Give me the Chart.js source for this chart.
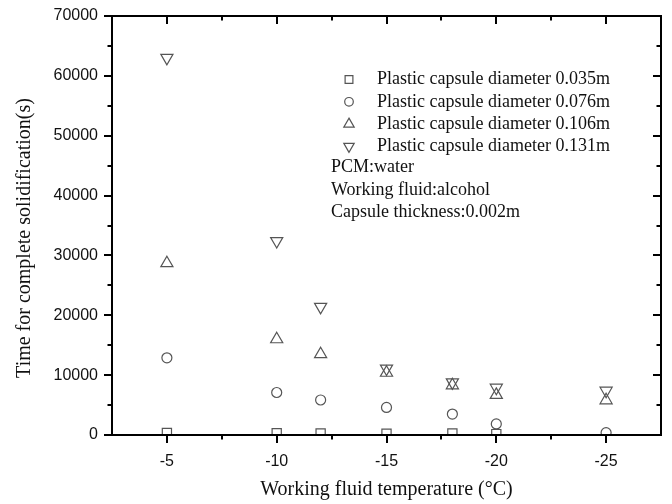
<!DOCTYPE html>
<html>
<head>
<meta charset="utf-8">
<script src="https://cdn.jsdelivr.net/npm/chart.js@4.4.1/dist/chart.umd.min.js"></script>
<style>
    html, body { margin: 0; padding: 0; background: #ffffff; }
    #wrap { width: 672px; height: 504px; position: relative; }
</style>
</head>
<body>
<div id="wrap"><canvas id="chartSolidificacion"></canvas></div>
<script>
// ===== TIEMPO DE SOLIDIFICACION COMPLETA vs TEMPERATURA DEL FLUIDO =====

// Temperaturas del fluido de trabajo (°C)
const temperaturas = [-5, -10, -12, -15, -18, -20, -25];

// Tiempo de solidificacion (s) por diametro de capsula
const tiempo035 = [350, 300, 250, 200, 250, 150];
const tiempo076 = [12900, 7100, 5850, 4600, 3500, 1850, 400];
const tiempo106 = [28700, 16000, 13500, 10400, 8300, 6700, 5800];
const tiempo131 = [63000, 32400, 21400, 11100, 8800, 7900, 7400];

const etiquetasSerie = [
    'Plastic capsule diameter 0.035m',
    'Plastic capsule diameter 0.076m',
    'Plastic capsule diameter 0.106m',
    'Plastic capsule diameter 0.131m'
];

const notas = ['PCM:water', 'Working fluid:alcohol', 'Capsule thickness:0.002m'];

const ticksX = [-5, -10, -15, -20, -25];
const ticksXMenores = [-7.5, -12.5, -17.5, -22.5];
const ticksY = [0, 10000, 20000, 30000, 40000, 50000, 60000, 70000];
const ticksYMenores = [5000, 15000, 25000, 35000, 45000, 55000, 65000];

const tituloX = 'Working fluid temperature (\u00B0C)';
const tituloY = 'Time for complete solidification(s)';

const SERIF = '"Liberation Serif", "Times New Roman", serif';
const SANS = '"Liberation Sans", Arial, sans-serif';
const COLOR_MARCA = '#555555';

function puntos(valores) {
    const lista = [];
    valores.forEach(function(v, i) {
        lista.push({ x: temperaturas[i], y: v });
    });
    return lista;
}

const estilos = [
    { pointStyle: 'rect', radius: 6.5, rotation: 0, legendRadius: 5.5 },
    { pointStyle: 'circle', radius: 5, rotation: 0, legendRadius: 4.3 },
    { pointStyle: 'triangle', radius: 7, rotation: 0, legendRadius: 6 },
    { pointStyle: 'triangle', radius: 7, rotation: 180, legendRadius: 6 }
];

const series = [tiempo035, tiempo076, tiempo106, tiempo131];

const datasets = series.map(function(valores, i) {
    return {
        label: etiquetasSerie[i],
        data: puntos(valores),
        pointStyle: estilos[i].pointStyle,
        pointRadius: estilos[i].radius,
        pointRotation: estilos[i].rotation,
        pointBorderColor: COLOR_MARCA,
        pointBackgroundColor: 'rgba(255,255,255,0)',
        pointBorderWidth: 1.2,
        showLine: false
    };
});

// Marco, marcas de escala, titulos de ejes y leyenda
const marcoYLeyenda = {
    id: 'marcoYLeyenda',
    afterDraw: function(chart) {
        const ctx = chart.ctx;
        const area = chart.chartArea;
        const sx = chart.scales.x;
        const sy = chart.scales.y;
        ctx.save();

        ctx.strokeStyle = '#000000';
        ctx.lineWidth = 2;
        ctx.strokeRect(area.left, area.top, area.right - area.left, area.bottom - area.top);

        function marcaX(v, largo) {
            const px = Math.round(sx.getPixelForValue(v));
            ctx.beginPath();
            ctx.moveTo(px, area.bottom);
            ctx.lineTo(px, area.bottom + largo);
            ctx.moveTo(px, area.top);
            ctx.lineTo(px, area.top + largo);
            ctx.stroke();
        }
        function marcaY(v, largo) {
            const py = Math.round(sy.getPixelForValue(v));
            ctx.beginPath();
            ctx.moveTo(area.left, py);
            ctx.lineTo(area.left - largo, py);
            ctx.moveTo(area.right, py);
            ctx.lineTo(area.right - largo, py);
            ctx.stroke();
        }
        ctx.lineWidth = 2;
        ticksX.forEach(function(v) { marcaX(v, 8); });
        ticksXMenores.forEach(function(v) { marcaX(v, 4.5); });
        ticksY.forEach(function(v) { marcaY(v, 8); });
        ticksYMenores.forEach(function(v) { marcaY(v, 4.5); });

        // Titulos de ejes
        ctx.fillStyle = '#111111';
        ctx.font = '20px ' + SERIF;
        ctx.textAlign = 'center';
        ctx.textBaseline = 'middle';
        ctx.fillText(tituloX, (area.left + area.right) / 2, 490);
        ctx.save();
        ctx.translate(25, 238);
        ctx.rotate(-Math.PI / 2);
        ctx.fillText(tituloY, 0, 0);
        ctx.restore();

        // Leyenda dentro del area de trazado
        const opts = chart.options.plugins.marcoYLeyenda;
        ctx.font = '18px ' + SERIF;
        ctx.textAlign = 'left';
        ctx.textBaseline = 'middle';
        chart.data.datasets.forEach(function(ds, i) {
            const y = opts.top + i * opts.rowHeight;
            ctx.strokeStyle = COLOR_MARCA;
            ctx.fillStyle = 'rgba(255,255,255,0)';
            ctx.lineWidth = 1.2;
            Chart.helpers.drawPoint(ctx, {
                pointStyle: estilos[i].pointStyle,
                radius: estilos[i].legendRadius,
                rotation: estilos[i].rotation,
                borderWidth: 1.2
            }, opts.markerX, y);
            ctx.fillStyle = '#111111';
            ctx.fillText(ds.label, opts.textX, y);
        });
        notas.forEach(function(nota, j) {
            const y = opts.top + (series.length + j) * opts.rowHeight - 1;
            ctx.fillText(nota, opts.notesX, y);
        });
        ctx.restore();
    }
};

function inicializarGrafico() {
    const ctx = document.getElementById('chartSolidificacion');
    new Chart(ctx, {
        type: 'scatter',
        data: { datasets: datasets },
        options: {
            responsive: true,
            maintainAspectRatio: false,
            animation: false,
            layout: { padding: { top: 16, right: 11, left: 0, bottom: 0 } },
            plugins: {
                legend: { display: false },
                tooltip: { enabled: false },
                marcoYLeyenda: {
                    markerX: 349,
                    textX: 377,
                    notesX: 331,
                    top: 79.5,
                    rowHeight: 22.3
                }
            },
            scales: {
                x: {
                    type: 'linear',
                    reverse: true,
                    min: -27.5,
                    max: -2.5,
                    grid: { display: false },
                    border: { display: false },
                    afterBuildTicks: function(scale) {
                        scale.ticks = ticksX.map(function(v) { return { value: v }; });
                    },
                    afterFit: function(scale) { scale.height = 69; },
                    ticks: {
                        padding: 9,
                        color: '#111111',
                        font: { family: SANS, size: 16 },
                        maxRotation: 0,
                        callback: function(v) { return String(v); }
                    }
                },
                y: {
                    type: 'linear',
                    min: 0,
                    max: 70000,
                    grid: { display: false },
                    border: { display: false },
                    afterBuildTicks: function(scale) {
                        scale.ticks = ticksY.map(function(v) { return { value: v }; });
                    },
                    afterFit: function(scale) { scale.width = 112; },
                    ticks: {
                        padding: 6,
                        color: '#111111',
                        font: { family: SANS, size: 16 },
                        callback: function(v) { return String(v); }
                    }
                }
            }
        },
        plugins: [marcoYLeyenda]
    });
}

document.addEventListener('DOMContentLoaded', inicializarGrafico);
</script>
</body>
</html>
